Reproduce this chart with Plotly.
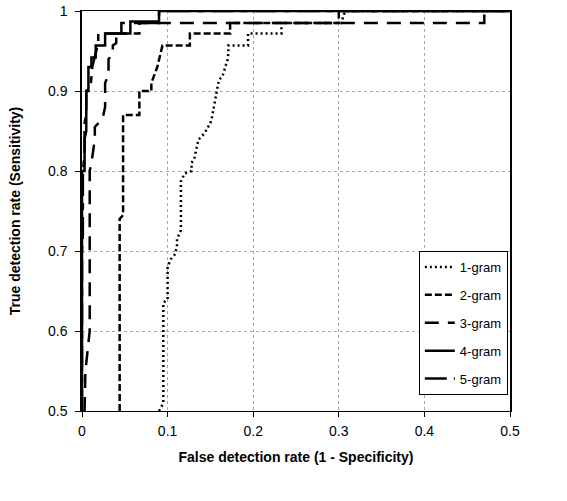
import plotly.graph_objects as go

series_names = ["1-gram", "2-gram", "3-gram", "4-gram", "5-gram"]

fpr_1 = [0.090, 0.095, 0.095, 0.100, 0.100, 0.104, 0.108, 0.111, 0.111, 0.1155, 0.1155, 0.120, 0.128, 0.128, 0.131, 0.136, 0.143, 0.150, 0.152, 0.155, 0.157, 0.160, 0.164, 0.170, 0.171, 0.171, 0.194, 0.194, 0.233, 0.233, 0.303, 0.306, 0.310, 0.500]
tpr_1 = [0.500, 0.510, 0.635, 0.640, 0.680, 0.690, 0.695, 0.705, 0.715, 0.726, 0.787, 0.797, 0.800, 0.810, 0.815, 0.839, 0.847, 0.860, 0.868, 0.889, 0.897, 0.914, 0.918, 0.939, 0.947, 0.957, 0.957, 0.972, 0.972, 0.985, 0.985, 0.996, 1.000, 1.000]

fpr_2 = [0.044, 0.044, 0.048, 0.048, 0.058, 0.067, 0.067, 0.081, 0.081, 0.088, 0.094, 0.126, 0.126, 0.173, 0.173, 0.300, 0.300, 0.500]
tpr_2 = [0.500, 0.740, 0.745, 0.870, 0.870, 0.870, 0.900, 0.900, 0.910, 0.930, 0.957, 0.957, 0.972, 0.972, 0.985, 0.985, 1.000, 1.000]

fpr_3 = [0.003, 0.004, 0.007, 0.009, 0.009, 0.011, 0.015, 0.015, 0.024, 0.027, 0.027, 0.031, 0.031, 0.036, 0.036, 0.040, 0.040, 0.046, 0.046, 0.470, 0.470, 0.500]
tpr_3 = [0.500, 0.550, 0.580, 0.600, 0.800, 0.810, 0.840, 0.855, 0.865, 0.880, 0.910, 0.920, 0.940, 0.945, 0.957, 0.960, 0.972, 0.972, 0.985, 0.985, 1.000, 1.000]

fpr_4 = [0.000, 0.000, 0.003, 0.003, 0.005, 0.005, 0.0075, 0.0075, 0.011, 0.011, 0.016, 0.016, 0.027, 0.027, 0.0565, 0.0565, 0.090, 0.090, 0.500]
tpr_4 = [0.500, 0.800, 0.800, 0.840, 0.850, 0.900, 0.900, 0.930, 0.930, 0.942, 0.942, 0.957, 0.957, 0.972, 0.972, 0.987, 0.987, 1.000, 1.000]

fpr_5 = [0.000, 0.000, 0.001, 0.001, 0.003, 0.003, 0.005, 0.005, 0.010, 0.012, 0.019, 0.019, 0.067, 0.067, 0.090, 0.090, 0.500]
tpr_5 = [0.500, 0.700, 0.720, 0.800, 0.820, 0.860, 0.870, 0.900, 0.905, 0.930, 0.960, 0.972, 0.972, 0.985, 0.985, 1.000, 1.000]

xs = [fpr_1, fpr_2, fpr_3, fpr_4, fpr_5]
ys = [tpr_1, tpr_2, tpr_3, tpr_4, tpr_5]
dashes = ["2px,3px", "7px,3px", "14px,9px", "solid", "22px,7px,7px,7px"]
widths = [2.5, 2.5, 2.5, 2.5, 2.5]

fig = go.Figure()
for name, x, y, d, w in zip(series_names, xs, ys, dashes, widths):
    fig.add_trace(go.Scatter(x=x, y=y, mode="lines", name=name, legendgroup=name,
                             line=dict(color="black", width=w, dash=d)))

font_family = "Liberation Sans, Arial, sans-serif"
fig.update_layout(
    width=567, height=501,
    margin=dict(l=82, r=57, t=11, b=90, autoexpand=False),
    paper_bgcolor="white", plot_bgcolor="white",
    font=dict(family=font_family, size=14, color="black"),
    showlegend=True,
    legend=dict(x=0.995, y=0.04, xanchor="right", yanchor="bottom",
                bgcolor="white", bordercolor="black", borderwidth=1,
                font=dict(size=13), tracegroupgap=8),
    xaxis=dict(range=[0, 0.5], dtick=0.1, tick0=0, automargin=False,
               showgrid=True, gridcolor="#a8a8a8", griddash="dot", gridwidth=1,
               zeroline=False, showline=True, linecolor="black", linewidth=1, mirror=True,
               ticks="outside", ticklen=5, tickcolor="black", ticklabelstandoff=2,
               tickfont=dict(size=14),
               title=dict(text="<b>False detection rate (1 - Specificity)</b>",
                          font=dict(size=14), standoff=14)),
    yaxis=dict(range=[0.5, 1], dtick=0.1, tick0=0.5, automargin=False,
               showgrid=True, gridcolor="#a8a8a8", griddash="dot", gridwidth=1,
               zeroline=False, showline=True, linecolor="black", linewidth=1.5, mirror=True,
               ticks="outside", ticklen=5, tickcolor="black", ticklabelstandoff=5,
               tickfont=dict(size=14),
               title=dict(text="<b>True detection rate (Sensitivity)</b>",
                          font=dict(size=14), standoff=24)),
)

fig.write_html("out.html", config={"displayModeBar": False},
               post_script="document.body.style.margin='0px';")
